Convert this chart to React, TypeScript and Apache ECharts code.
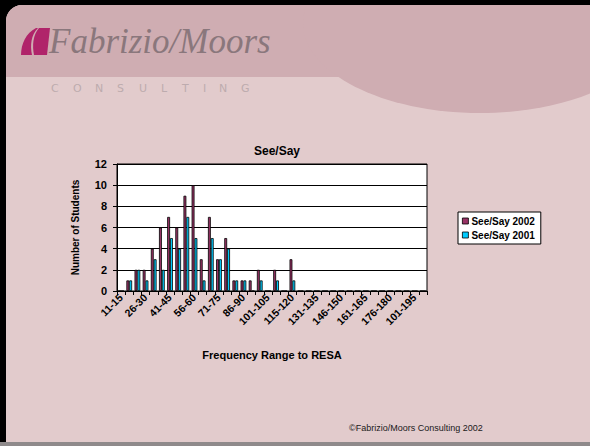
import React, { useEffect, useRef } from "react";
import * as echarts from "echarts";

const categories = [
  "11-15", "16-20", "21-25", "26-30", "31-35", "36-40", "41-45", "46-50", "51-55", "56-60",
  "61-65", "66-70", "71-75", "76-80", "81-85", "86-90", "91-95", "96-100", "101-105", "106-110",
  "111-115", "115-120", "121-125", "126-130", "131-135", "136-140", "141-145", "146-150", "151-155", "156-160",
  "161-165", "166-170", "171-175", "176-180", "181-185", "186-190", "101-195", "196-200",
];

const seeSay2002 = [
  0, 1, 2, 2, 4, 6, 7, 6, 9, 10,
  3, 7, 3, 5, 1, 1, 1, 2, 0, 2,
  0, 3, 0, 0, 0, 0, 0, 0, 0, 0,
  0, 0, 0, 0, 0, 0, 0, 0,
];

const seeSay2001 = [
  0, 1, 2, 1, 3, 2, 5, 4, 7, 5,
  1, 5, 3, 4, 1, 1, 0, 1, 0, 1,
  0, 1, 0, 0, 0, 0, 0, 0, 0, 0,
  0, 0, 0, 0, 0, 0, 0, 0,
];

const seriesNames = ["See/Say 2002", "See/Say 2001"];
const yTicks = { min: 0, max: 12, interval: 2 };

const FONT = "'Liberation Sans', Arial, sans-serif";

const logoLeft = "M0 28 C0 17 5 6 15 1 L17 1 C10 8 9 18 11 28 Z";
const logoRight = "M18 1 L29 1 L26 28 L13 28 C11 18 12 8 18 1 Z";

export default function App() {
  const ref = useRef<HTMLDivElement>(null);

  useEffect(() => {
    if (!ref.current) return;
    echarts.graphic.registerShape("logoLeft", echarts.graphic.extendPath(logoLeft, {}));
    echarts.graphic.registerShape("logoRight", echarts.graphic.extendPath(logoRight, {}));
    const chart = echarts.init(ref.current, null, { renderer: "svg" });

    const consultingLetters = "CONSULTING".split("");
    const letterX = [51, 73, 95, 117, 139, 161, 182, 203, 219, 241];

    const bandColor = "#CFADB2";

    const option: any = {
      animation: false,
      backgroundColor: "#000000",
      textStyle: { fontFamily: FONT },
      graphic: [
        {
          type: "rect",
          z: -20,
          shape: { x: 6, y: 5, width: 590, height: 437, r: [16, 0, 0, 0] },
          style: { fill: "#E2CBCC" },
        },
        {
          type: "rect",
          z: -19,
          shape: { x: 0, y: 442, width: 590, height: 4 },
          style: { fill: "#8f8a8b" },
        },
        {
          type: "rect",
          z: -18,
          shape: { x: 6, y: 5, width: 584, height: 72, r: [16, 0, 0, 0] },
          style: { fill: bandColor },
        },
        {
          type: "ellipse",
          z: -18,
          shape: { cx: 480, cy: 23, rx: 177, ry: 90 },
          style: { fill: bandColor },
        },
        {
          type: "rect",
          z: -17,
          shape: { x: 0, y: 0, width: 590, height: 5 },
          style: { fill: "#000000" },
        },
        {
          type: "logoLeft",
          z: -10,
          x: 21,
          y: 27,
          style: { fill: "#B0246A" },
        },
        {
          type: "logoRight",
          z: -10,
          x: 21,
          y: 27,
          style: { fill: "#B0246A" },
        },
        {
          type: "text",
          z: -10,
          x: 49,
          y: 24,
          style: {
            text: "Fabrizio/Moors",
            font: "italic 35px 'Liberation Serif', 'DejaVu Serif', serif",
            fill: "#8A777C",
          },
        },
        ...consultingLetters.map((ch, i) => ({
          type: "text",
          z: -10,
          x: letterX[i],
          y: 83,
          style: {
            text: ch,
            font: "11px 'DejaVu Sans', sans-serif",
            fill: "#BDABAE",
          },
        })),
        {
          type: "text",
          z: -10,
          x: 349,
          y: 423,
          style: {
            text: "©Fabrizio/Moors Consulting 2002",
            font: `9px ${FONT}`,
            fill: "#1a1a1a",
          },
        },
      ],
      title: {
        text: "See/Say",
        left: 272,
        top: 140,
        textAlign: "center",
        textStyle: { fontSize: 12, fontWeight: "bold", color: "#000", fontFamily: FONT },
      },
      legend: {
        orient: "vertical",
        left: 458,
        top: 212,
        data: seriesNames,
        icon: "rect",
        itemWidth: 6,
        itemHeight: 6,
        itemGap: 4,
        padding: [4, 6, 4, 4],
        backgroundColor: "#ffffff",
        borderColor: "#000000",
        borderWidth: 1,
        borderRadius: 0,
        textStyle: { fontSize: 10, fontWeight: "bold", color: "#000", fontFamily: FONT, padding: [0, 0, 0, -2] },
        itemStyle: { borderColor: "#000", borderWidth: 0.8 },
      },
      grid: {
        left: 117,
        top: 164,
        width: 310,
        height: 127,
        show: true,
        backgroundColor: "#ffffff",
        borderColor: "#000000",
        borderWidth: 1,
        containLabel: false,
      },
      xAxis: {
        type: "category",
        data: categories,
        boundaryGap: true,
        name: "Frequency Range to RESA",
        nameLocation: "middle",
        nameGap: 58,
        nameTextStyle: { fontSize: 11, fontWeight: "bold", color: "#000", fontFamily: FONT },
        axisLine: { show: true, lineStyle: { color: "#000", width: 1 } },
        axisTick: { show: true, interval: 0, length: 4, inside: false, lineStyle: { color: "#000" } },
        axisLabel: {
          interval: 2,
          rotate: 45,
          margin: 5,
          fontSize: 10.5,
          fontWeight: "bold",
          color: "#000",
          fontFamily: FONT,
        },
        splitLine: { show: false },
      },
      yAxis: {
        type: "value",
        min: yTicks.min,
        max: yTicks.max,
        interval: yTicks.interval,
        name: "Number of Students",
        nameLocation: "middle",
        nameRotate: 90,
        nameGap: 37,
        nameTextStyle: { fontSize: 10, fontWeight: "bold", color: "#000", fontFamily: FONT },
        axisLine: { show: true, lineStyle: { color: "#000", width: 1 } },
        axisTick: { show: true, length: 4, inside: false, lineStyle: { color: "#000" } },
        axisLabel: { margin: 10, fontSize: 11, fontWeight: "bold", color: "#000", fontFamily: FONT },
        splitLine: { show: true, lineStyle: { color: "#000", width: 1 } },
      },
      series: [
        {
          name: seriesNames[0],
          type: "bar",
          data: seeSay2002,
          barGap: "0%",
          barCategoryGap: "30%",
          itemStyle: { color: "#993366", borderColor: "#000", borderWidth: 0.8 },
        },
        {
          name: seriesNames[1],
          type: "bar",
          data: seeSay2001,
          barGap: "0%",
          barCategoryGap: "30%",
          itemStyle: { color: "#00CCFF", borderColor: "#000", borderWidth: 0.8 },
        },
      ],
    };

    chart.setOption(option);
    return () => chart.dispose();
  }, []);

  return (
    <div
      ref={ref}
      style={{ position: "fixed", left: 0, top: 0, width: 590, height: 446 }}
    />
  );
}
